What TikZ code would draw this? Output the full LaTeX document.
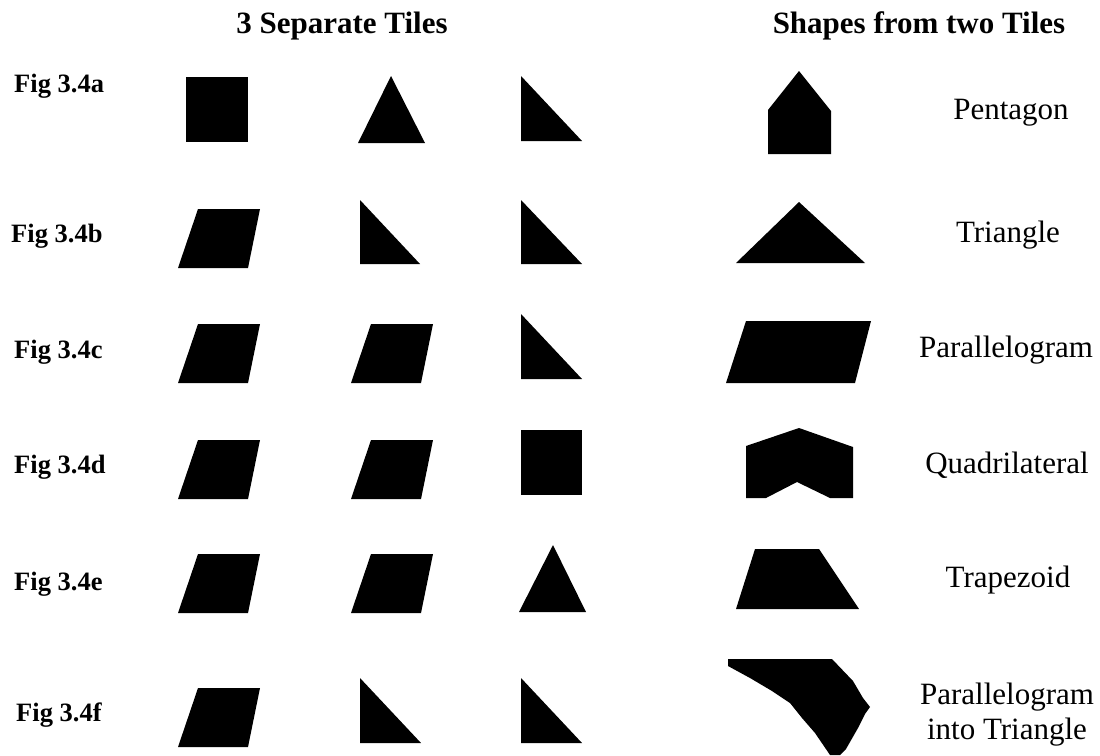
\documentclass[tikz,border=0pt]{standalone}
\usepackage{fontspec}
\setmainfont{Liberation Serif}
\begin{document}
\begin{tikzpicture}[x=1pt,y=-1pt,
  tile/.style={fill=black},
  headtext/.style={inner sep=0pt,anchor=base,font=\fontsize{31}{36}\selectfont\bfseries},
  figlab/.style={inner sep=0pt,anchor=base west,font=\fontsize{26.5}{30}\selectfont\bfseries},
  shapelab/.style={inner sep=0pt,anchor=base,font=\fontsize{31}{35}\selectfont,align=center}]
\useasboundingbox (0,0) rectangle (1100,755);
% headers
\node[headtext] (h1) at (342,33) {3 Separate Tiles};
\node[headtext] (h2) at (919,33) {Shapes from two Tiles};
% figure labels
\node[figlab] (fa) at (14,92.5) {Fig 3.4a};
\node[figlab] (fb) at (11,242) {Fig 3.4b};
\node[figlab] (fc) at (14,358) {Fig 3.4c};
\node[figlab] (fd) at (14,473) {Fig 3.4d};
\node[figlab] (fe) at (14,590) {Fig 3.4e};
\node[figlab] (ff) at (16,721) {Fig 3.4f};
% shape names
\node[shapelab] (na) at (1011,119.5) {Pentagon};
\node[shapelab] (nb) at (1008,242) {Triangle};
\node[shapelab] (nc) at (1006,357.5) {Parallelogram};
\node[shapelab] (nd) at (1007,473.5) {Quadrilateral};
\node[shapelab] (ne) at (1008,587) {Trapezoid};
\node[shapelab] (nf1) at (1007,704) {Parallelogram};
\node[shapelab] (nf2) at (1007,739) {into Triangle};
% row a tiles
\fill[tile] (186,77) rectangle (248,142);
\fill[tile] (391,76) -- (425,143) -- (358,143) -- cycle;
\fill[tile] (521,76) -- (582,141) -- (521,141) -- cycle;
% row b tiles
\fill[tile] (198,209) -- (260,209) -- (248,268) -- (178,268) -- cycle;
\fill[tile] (360,200) -- (420,264) -- (360,264) -- cycle;
\fill[tile] (521,200) -- (582,264) -- (521,264) -- cycle;
% row c tiles
\fill[tile] (198,324) -- (260,324) -- (248,383) -- (178,383) -- cycle;
\fill[tile] (371,324) -- (433,324) -- (421,383) -- (351,383) -- cycle;
\fill[tile] (521,314) -- (582,379) -- (521,379) -- cycle;
% row d tiles
\fill[tile] (198,440) -- (260,440) -- (248,499) -- (178,499) -- cycle;
\fill[tile] (371,440) -- (433,440) -- (421,499) -- (351,499) -- cycle;
\fill[tile] (521,430) rectangle (582,495);
% row e tiles
\fill[tile] (198,554) -- (260,554) -- (248,613) -- (178,613) -- cycle;
\fill[tile] (371,554) -- (433,554) -- (421,613) -- (351,613) -- cycle;
\fill[tile] (553,545) -- (586,612) -- (519,612) -- cycle;
% row f tiles
\fill[tile] (198,688) -- (260,688) -- (248,747) -- (178,747) -- cycle;
\fill[tile] (360,678) -- (421,743) -- (360,743) -- cycle;
\fill[tile] (521,678) -- (582,743) -- (521,743) -- cycle;
% results
\fill[tile] (768,154) -- (768,110) -- (799,71) -- (831,111) -- (831,154) -- cycle;
\fill[tile] (736,263) -- (799,202) -- (865,263) -- cycle;
\fill[tile] (746,321) -- (871,321) -- (855,383) -- (726,383) -- cycle;
\fill[tile] (746,446) -- (799,428) -- (853,447) -- (853,498) -- (830,498)
  -- (797,482) -- (766,498) -- (746,498) -- cycle;
\fill[tile] (755,549) -- (819,549) -- (859,609) -- (736,609) -- cycle;
\fill[tile] (728,659) -- (832,659) -- (853,681) -- (863,698) -- (870,707)
  -- (865,714) -- (858,728) -- (846,749) -- (840,755) -- (830,755)
  -- (815,733) -- (802,718) -- (790,703) -- (772,691) -- (750,678)
  -- (728,666) -- cycle;
\end{tikzpicture}
\end{document}
